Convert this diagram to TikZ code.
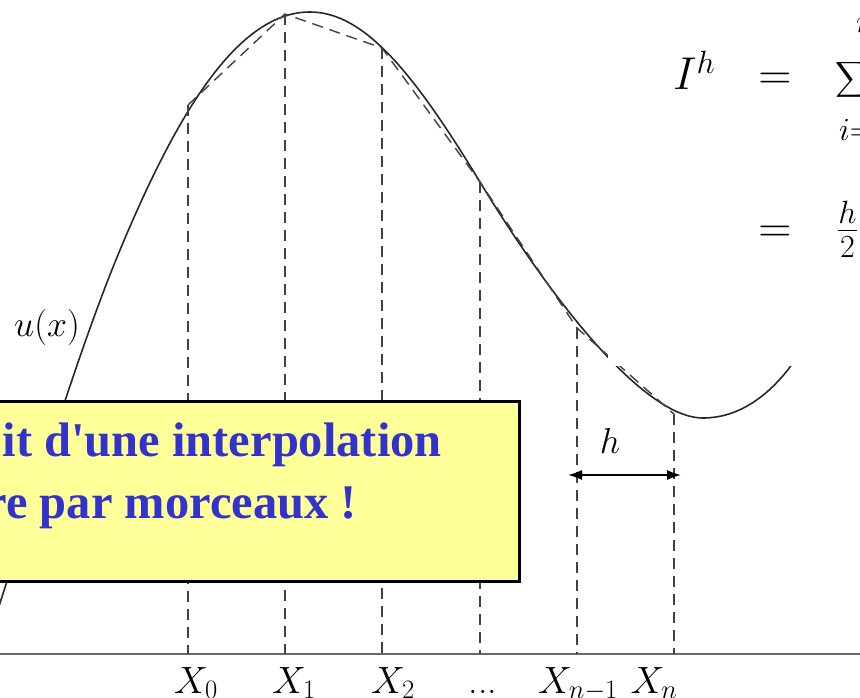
\RequirePackage{fix-cm}
\documentclass[tikz,border=0pt]{standalone}
\usepackage{amsmath}
\usepackage{fontspec}
\newfontfamily\boxfont{Liberation Serif}
\usetikzlibrary{arrows.meta}
\definecolor{curvecol}{RGB}{40,40,40}
\definecolor{dashcol}{RGB}{65,65,65}
\definecolor{axiscol}{RGB}{105,105,105}
\definecolor{boxfill}{RGB}{255,255,153}
\definecolor{boxtext}{RGB}{51,51,204}
\tikzset{
  curveline/.style={draw=curvecol, line width=1.6pt},
  dashline/.style={draw=dashcol, line width=1.4pt, dash pattern=on 11pt off 7pt},
  axisline/.style={draw=axiscol, line width=2pt},
  harrow/.style={draw=black, line width=1.6pt, {Latex[length=14pt,width=10pt]}-{Latex[length=14pt,width=10pt]}},
  lab/.style={inner sep=0pt, anchor=base, font=\fontsize{38}{46}\selectfont},
  smalllab/.style={inner sep=0pt, anchor=base, font=\fontsize{36}{44}\selectfont},
  formula/.style={inner sep=0pt, font=\fontsize{46}{56}\selectfont},
  limitlab/.style={inner sep=0pt, anchor=base west, font=\fontsize{46}{56}\selectfont},
  boxframe/.style={draw=black, fill=boxfill, line width=3pt},
  boxtxt/.style={inner sep=0pt, anchor=base east, text=boxtext, font=\boxfont\bfseries\fontsize{48.5}{58}\selectfont}
}
\begin{document}
\begin{tikzpicture}[x=1pt,y=-1pt]
\useasboundingbox (0,0) rectangle (860,698);
\clip (0,0) rectangle (860,698);
\fill[white] (0,0) rectangle (860,698);
% axis
\coordinate (axL) at (0,654);
\coordinate (axR) at (860,654);
\draw[axisline] (axL) -- (axR);
% curve u(x)
\coordinate (c0) at (-10,634);
\coordinate (c1) at (0,603);
\coordinate (c2) at (120,250);
\coordinate (c3) at (310,12);
\coordinate (c4) at (480,182);
\coordinate (c5) at (703,418);
\coordinate (c6) at (790,367);
\coordinate (c7) at (815,330);
\draw[curveline] (c0) -- (c1)
  .. controls (40,479) and (80,346) .. (c2)
  .. controls (180,106) and (240,12) .. (c3)
  .. controls (365,12) and (415,75) .. (c4)
  .. controls (550,297.5) and (643,418) .. (c5)
  .. controls (735,418) and (765,400) .. (c6)
  -- (c7);
% nodes of the subdivision
\foreach \i/\x/\y in {0/188/105,1/285/14,2/382/48,3/480/182,4/577/328,5/674/414}{
  \coordinate (p\i) at (\x,\y);
  \coordinate (t\i) at (\x,654);
  \draw[dashline] (p\i) -- (t\i);
}
% piecewise linear interpolation
\draw[dashline] (p0) -- (p1) -- (p2) -- (p3) -- (p4) -- (p5);
% h arrow
\coordinate (hL) at (568,475);
\coordinate (hR) at (681,475);
\draw[harrow] (hL) -- (hR);
\node[smalllab] (hlab) at (610,453) {$h$};
% u(x) label
\node[smalllab] (ulab) at (47,336) {$u(x)$};
% axis labels
\node[lab] (x0) at (196,693) {$X_0$};
\node[lab] (x1) at (294,693) {$X_1$};
\node[lab] (x2) at (393,693) {$X_2$};
\node[lab] (xd) at (483,693) {...};
\node[lab] (xn1) at (578,693) {$X_{n-1}$};
\node[lab] (xn) at (654,693) {$X_n$};
% white area behind the formula
\fill[white] (608,0) rectangle (860,366);
% formula
\node[formula, anchor=base west] (Ih) at (673,90) {$I^h$};
\node[formula, anchor=base] (eq1) at (775,90) {$=$};
\node[formula, anchor=west] (sum) at (835,79.5) {$\displaystyle\sum$};
\node[limitlab] (sumtop) at (856,33) {$\scriptstyle n$};
\node[limitlab] (sumbot) at (839,141) {$\scriptstyle i=1$};
\node[formula, anchor=base] (eq2) at (775,242) {$=$};
\node[formula, anchor=base west] (frac) at (837,242) {$\frac{h}{2}$};
% yellow box
\draw[boxframe] (-20,401) rectangle (519.5,581);
\node[boxtxt] (line1) at (442,456) {it d'une interpolation};
\node[boxtxt] (line2) at (357,518) {re par morceaux !};
\end{tikzpicture}
\end{document}
